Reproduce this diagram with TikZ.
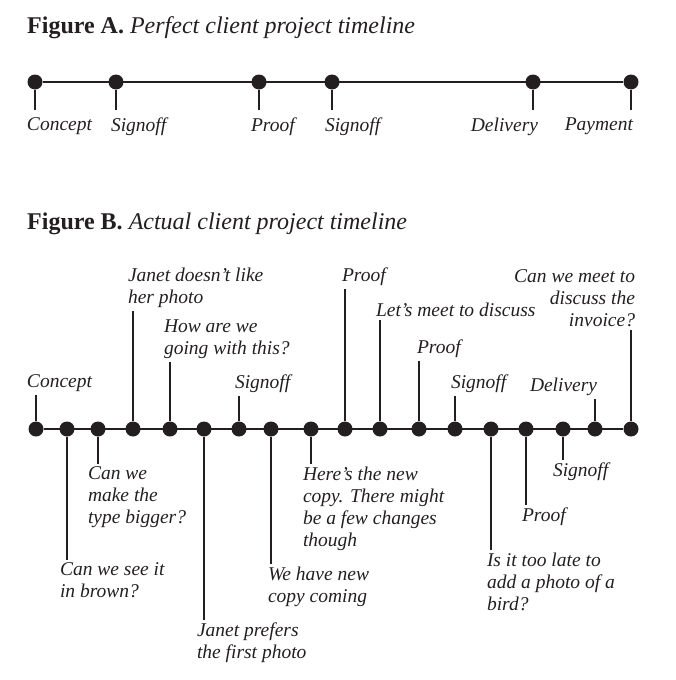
\documentclass[tikz,border=0pt]{standalone}
\usepackage{fontspec}
\setmainfont{Liberation Serif}
\definecolor{ink}{HTML}{231F20}
\begin{document}
\begin{tikzpicture}[
    x=1pt,y=-1pt,
    event/.style={fill=ink,circle,inner sep=0pt,minimum size=15pt},
    lbl/.style={font=\fontsize{19.5}{22}\selectfont\itshape,text=ink,align=left,
        inner sep=0pt,outer sep=3pt,anchor=north west,xshift=-3pt,yshift=3pt},
    rlbl/.style={lbl,align=right,anchor=north east,xshift=6pt},
    gapped/.style={outer sep=8pt,yshift=5pt},
    heading/.style={font=\fontsize{24}{28}\selectfont,text=ink,inner sep=0pt,anchor=base west},
    stem/.style={draw=ink,line width=2pt},
    axis/.style={draw=ink,line width=2pt}
]
\useasboundingbox (0,0) rectangle (675,680);

%Figure A
\node[heading] (ta) at (27,33) {\textbf{Figure A.} \textit{Perfect client project timeline}};
\node[event] (a1) at (35,82) {};
\node[event] (a2) at (116,82) {};
\node[event] (a3) at (259,82) {};
\node[event] (a4) at (332,82) {};
\node[event] (a5) at (533,82) {};
\node[event] (a6) at (631,82) {};
\node[lbl,gapped,xshift=-5pt] (la1) at (27,118) {Concept};
\node[lbl,gapped,xshift=-5pt] (la2) at (111,118) {Signoff};
\node[lbl,gapped,xshift=-5pt] (la3) at (251,118) {Proof};
\node[lbl,gapped,xshift=-5pt] (la4) at (325,118) {Signoff};
\node[rlbl,gapped,xshift=5pt] (la5) at (538,118) {Delivery};
\node[rlbl,gapped,xshift=5pt] (la6) at (633,118) {Payment};
%Draw the connections
\draw[axis] (a1) -- (a6);
\draw[stem] (a1) -- (a1 |- la1.north);
\draw[stem] (a2) -- (a2 |- la2.north);
\draw[stem] (a3) -- (a3 |- la3.north);
\draw[stem] (a4) -- (a4 |- la4.north);
\draw[stem] (a5) -- (a5 |- la5.north);
\draw[stem] (a6) -- (a6 |- la6.north);

%Figure B
\node[heading] (tb) at (27,229) {\textbf{Figure B.} \textit{Actual client project timeline}};
\node[event] (b1) at (36,429) {};
\node[event] (b2) at (67,429) {};
\node[event] (b3) at (98,429) {};
\node[event] (b4) at (133,429) {};
\node[event] (b5) at (170,429) {};
\node[event] (b6) at (204,429) {};
\node[event] (b7) at (239,429) {};
\node[event] (b8) at (271,429) {};
\node[event] (b9) at (311,429) {};
\node[event] (b10) at (345,429) {};
\node[event] (b11) at (380,429) {};
\node[event] (b12) at (419,429) {};
\node[event] (b13) at (455,429) {};
\node[event] (b14) at (491,429) {};
\node[event] (b15) at (526,429) {};
\node[event] (b16) at (563,429) {};
\node[event] (b17) at (595,429) {};
\node[event] (b18) at (631,429) {};
%above the line
\node[lbl] (lb1) at (27,375) {Concept};
\node[lbl] (lb4) at (128,268) {Janet doesn't like\\her photo};
\node[lbl] (lb5) at (164,320) {How are we\\going with this?};
\node[lbl] (lb7) at (235,375) {Signoff};
\node[lbl] (lb10) at (342,268) {Proof};
\node[lbl] (lb11) at (376,303) {Let's meet to discuss};
\node[lbl] (lb12) at (417,340) {Proof};
\node[lbl] (lb13) at (451,375) {Signoff};
\node[lbl] (lb17) at (530,378) {Delivery};
\node[rlbl] (lb18) at (635,270) {Can we meet to\\discuss the\\invoice?};
%below the line
\node[lbl] (lb2) at (60,563) {Can we see it\\in brown?};
\node[lbl] (lb3) at (88,467) {Can we\\make the\\type bigger?};
\node[lbl] (lb6) at (197,623) {Janet prefers\\the first photo};
\node[lbl] (lb8) at (268,567) {We have new\\copy coming};
\node[lbl] (lb9) at (303,467) {Here's the new\\copy. There might\\be a few changes\\though};
\node[lbl] (lb14) at (487,553) {Is it too late to\\add a photo of a\\bird?};
\node[lbl] (lb15) at (522,508) {Proof};
\node[lbl] (lb16) at (553,463) {Signoff};
%Draw the connections
\draw[axis] (b1) -- (b18);
\draw[stem] (b1) -- (b1 |- lb1.south);
\draw[stem] (b4) -- (b4 |- lb4.south);
\draw[stem] (b5) -- (b5 |- lb5.south);
\draw[stem] (b7) -- (b7 |- lb7.south);
\draw[stem] (b10) -- (b10 |- lb10.south);
\draw[stem] (b11) -- (b11 |- lb11.south);
\draw[stem] (b12) -- (b12 |- lb12.south);
\draw[stem] (b13) -- (b13 |- lb13.south);
\draw[stem] (b17) -- (b17 |- lb17.south);
\draw[stem] (b18) -- (b18 |- lb18.south);
\draw[stem] (b2) -- (b2 |- lb2.north);
\draw[stem] (b3) -- (b3 |- lb3.north);
\draw[stem] (b6) -- (b6 |- lb6.north);
\draw[stem] (b8) -- (b8 |- lb8.north);
\draw[stem] (b9) -- (b9 |- lb9.north);
\draw[stem] (b14) -- (b14 |- lb14.north);
\draw[stem] (b15) -- (b15 |- lb15.north);
\draw[stem] (b16) -- (b16 |- lb16.north);

\end{tikzpicture}
\end{document}
